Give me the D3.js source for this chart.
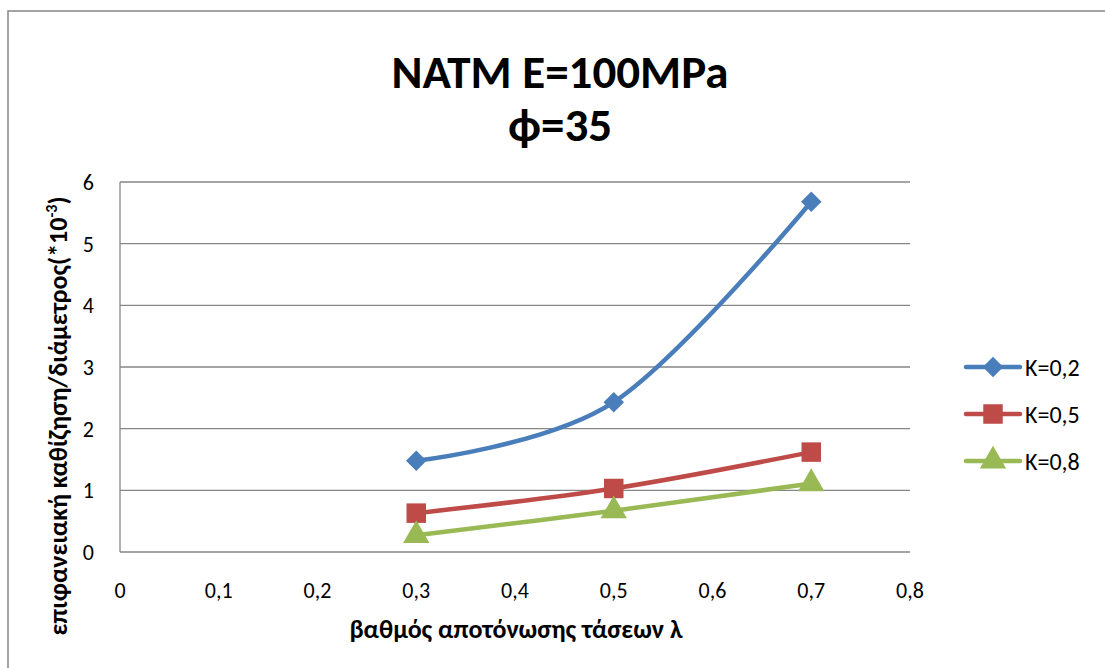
<!DOCTYPE html>
<html>
<head>
<meta charset="utf-8">
<script src="https://cdn.jsdelivr.net/npm/d3@7"></script>
<style>
  body { margin: 0; background: #fff; }
  svg { display: block; font-family: Carlito, Lato, "Open Sans", sans-serif; }
</style>
</head>
<body>
<div id="chart"></div>
<script>
// values
const lambdas = [0.3, 0.5, 0.7];
const k02 = [1.48, 2.43, 5.68];
const k05 = [0.63, 1.03, 1.62];
const k08 = [0.27, 0.67, 1.11];
const seriesNames = ["K=0,2", "K=0,5", "K=0,8"];
const xTicks = [0, 0.1, 0.2, 0.3, 0.4, 0.5, 0.6, 0.7, 0.8];
const yTicks = [0, 1, 2, 3, 4, 5, 6];

const width = 1105, height = 668;
const margin = { top: 182, right: 195, bottom: 116, left: 120 };

const svg = d3.select("#chart").append("svg")
  .attr("width", width)
  .attr("height", height);

// outer chart border
svg.append("rect")
  .attr("x", 8).attr("y", 11)
  .attr("width", width + 20).attr("height", height + 20)
  .attr("fill", "none")
  .attr("stroke", "#878787")
  .attr("stroke-width", 1.5);

const x = d3.scaleLinear().domain([0, 0.8]).range([margin.left, width - margin.right]);
const y = d3.scaleLinear().domain([0, 6]).range([height - margin.bottom, margin.top]);

const fmt = (d) => String(d).replace(".", ",");

// gridlines
svg.append("g")
  .selectAll("line")
  .data(yTicks)
  .join("line")
  .attr("x1", x(0)).attr("x2", x(0.8))
  .attr("y1", (d) => y(d)).attr("y2", (d) => y(d))
  .attr("stroke", "#868686")
  .attr("stroke-width", 1.3);

// left axis line
svg.append("line")
  .attr("x1", x(0)).attr("x2", x(0))
  .attr("y1", y(0)).attr("y2", y(6))
  .attr("stroke", "#868686")
  .attr("stroke-width", 1.3);

// y tick labels
svg.append("g")
  .selectAll("text")
  .data(yTicks)
  .join("text")
  .attr("x", 94)
  .attr("y", (d) => y(d))
  .attr("dy", "0.36em")
  .attr("text-anchor", "end")
  .attr("font-size", 22)
  .attr("fill", "#000")
  .text(fmt);

// x tick labels
svg.append("g")
  .selectAll("text")
  .data(xTicks)
  .join("text")
  .attr("x", (d) => x(d))
  .attr("y", 598)
  .attr("text-anchor", "middle")
  .attr("font-size", 22)
  .attr("fill", "#000")
  .text(fmt);

// titles
const title = svg.append("text")
  .attr("text-anchor", "middle")
  .attr("font-size", 47)
  .attr("font-weight", "bold")
  .attr("fill", "#000");
title.append("tspan").attr("x", 560).attr("y", 88).text("NATM E=100MPa");
title.append("tspan").attr("x", 560).attr("y", 141).text("ϕ=35");

svg.append("text")
  .attr("x", 516).attr("y", 638)
  .attr("text-anchor", "middle")
  .attr("font-size", 26)
  .attr("font-weight", "bold")
  .text("βαθμός αποτόνωσης τάσεων λ");

const yTitle = svg.append("text")
  .attr("transform", "translate(67,416) rotate(-90)")
  .attr("text-anchor", "middle")
  .attr("font-size", 26)
  .attr("font-weight", "bold");
yTitle.append("tspan").text("επιφανειακή καθίζηση/διάμετρος(*10");
yTitle.append("tspan").attr("font-size", 16).attr("dy", -10).text("-3");
yTitle.append("tspan").attr("dy", 10).text(")");

// series (diamond = square turned 45deg, like the spreadsheet marker)
const series = [
  { name: seriesNames[0], values: k02, color: "#4A7EBB", marker: d3.symbolSquare, size: 210, rot: 45 },
  { name: seriesNames[1], values: k05, color: "#BE4B48", marker: d3.symbolSquare, size: 380, rot: 0 },
  { name: seriesNames[2], values: k08, color: "#98B954", marker: d3.symbolTriangle, size: 300, rot: 0 },
];

const line = d3.line()
  .x((d) => x(d[0]))
  .y((d) => y(d[1]))
  .curve(d3.curveCatmullRom.alpha(0));

series.forEach((s) => {
  const pts = lambdas.map((l, i) => [l, s.values[i]]);
  svg.append("path")
    .datum(pts)
    .attr("d", line)
    .attr("fill", "none")
    .attr("stroke", s.color)
    .attr("stroke-width", 4.5)
    .attr("stroke-linecap", "round");
  svg.append("g")
    .selectAll("path")
    .data(pts)
    .join("path")
    .attr("transform", (d) => `translate(${x(d[0])},${y(d[1])}) rotate(${s.rot})`)
    .attr("d", d3.symbol().type(s.marker).size(s.size))
    .attr("fill", s.color);
});

// legend
const legend = svg.append("g").attr("transform", "translate(966,367)");
series.forEach((s, i) => {
  const g = legend.append("g").attr("transform", `translate(0,${i * 47})`);
  g.append("line")
    .attr("x1", 0).attr("x2", 54)
    .attr("stroke", s.color)
    .attr("stroke-width", 4.5)
    .attr("stroke-linecap", "round");
  g.append("path")
    .attr("transform", `translate(27,0) rotate(${s.rot})`)
    .attr("d", d3.symbol().type(s.marker).size(s.size))
    .attr("fill", s.color);
  g.append("text")
    .attr("x", 59)
    .attr("dy", "0.36em")
    .attr("font-size", 24)
    .text(s.name);
});
</script>
</body>
</html>
